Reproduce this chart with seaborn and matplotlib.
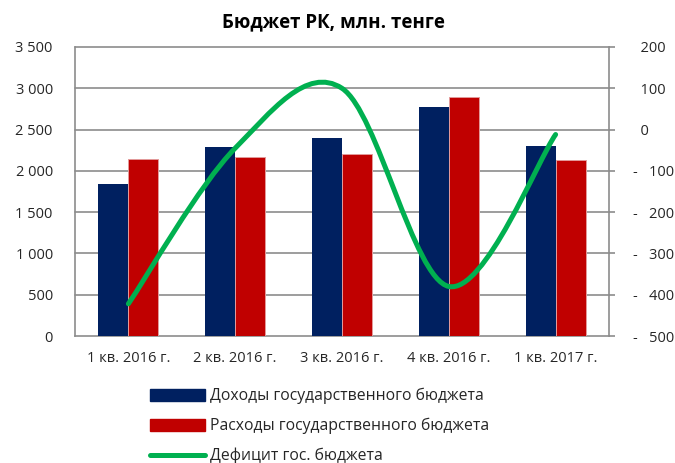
import numpy as np
import pandas as pd
import matplotlib
matplotlib.use("Agg")
import matplotlib.pyplot as plt
from matplotlib.path import Path
from matplotlib.patches import PathPatch, Patch
from matplotlib.lines import Line2D
import seaborn as sns

# Quarterly budget figures, mln tenge
quarters = ["1 кв. 2016 г.", "2 кв. 2016 г.", "3 кв. 2016 г.", "4 кв. 2016 г.", "1 кв. 2017 г."]
revenues = [1837, 2285, 2400, 2770, 2300]
expenses = [2140, 2172, 2210, 2890, 2127]
deficit = [-422, -45, 100, -380, -12]

series_names = ["Доходы государственного бюджета",
                "Расходы государственного бюджета",
                "Дефицит гос. бюджета"]

left_ticks = [0, 500, 1000, 1500, 2000, 2500, 3000, 3500]
left_labels = ["0", "500", "1 000", "1 500", "2 000", "2 500", "3 000", "3 500"]
right_ticks = [-500, -400, -300, -200, -100, 0, 100, 200]
right_labels = ["-   500", "-   400", "-   300", "-   200", "-   100", "  0", "  100", "  200"]

navy = "#002060"
red = "#C00000"
green = "#00B050"
grid_grey = "#8C8C8C"

sns.set_theme(style="white")
plt.rcParams["font.family"] = ["Open Sans", "DejaVu Sans"]
plt.rcParams["font.size"] = 10

df = pd.DataFrame({
    "quarter": quarters * 2,
    "series": [series_names[0]] * len(quarters) + [series_names[1]] * len(quarters),
    "value": revenues + expenses,
})

fig = plt.figure(figsize=(6.75, 4.63), dpi=100)
ax = fig.add_axes([75 / 675, 1 - 336 / 463, 534 / 675, 289 / 463])

sns.barplot(data=df, x="quarter", y="value", hue="series", order=quarters,
            palette=[navy, red], width=0.56, saturation=1, ax=ax, legend=False,
            linewidth=0, errorbar=None, zorder=3)

# thin light outline on the expense bars
for bar in ax.patches:
    fc = bar.get_facecolor()
    if fc[0] > 0.5:
        bar.set_edgecolor("#E39A9A")
        bar.set_linewidth(0.7)

ax.set_xlim(-0.5, len(quarters) - 0.5)
ax.set_ylim(0, 3500)
ax.set_yticks(left_ticks)
ax.set_yticklabels(left_labels)
ax.set_xlabel("")
ax.set_ylabel("")
ax.tick_params(axis="y", length=0, pad=16, labelsize=10.5, colors="#262626")
ax.tick_params(axis="x", length=0, pad=11, labelsize=10.5, colors="#262626")
for s in ["top", "right"]:
    ax.spines[s].set_visible(False)
for s in ["left", "bottom"]:
    ax.spines[s].set_color(grid_grey)
    ax.spines[s].set_linewidth(1.2)

# horizontal gridlines at the primary tick positions
for t in left_ticks[1:]:
    ax.axhline(t, color=grid_grey, linewidth=1.2, zorder=1, clip_on=False)

# Secondary axis with the smoothed deficit curve
ax2 = ax.twinx()
ax2.set_ylim(-500, 200)
ax2.set_yticks(right_ticks)
ax2.set_yticklabels(right_labels, ha="left")
ax2.tick_params(axis="y", direction="out", length=4.5, width=1.2, color=grid_grey,
                pad=13, labelsize=10.5, labelcolor="#262626")
for s in ["top", "left", "bottom"]:
    ax2.spines[s].set_visible(False)
ax2.spines["right"].set_color(grid_grey)
ax2.spines["right"].set_linewidth(1.2)

xs = np.arange(len(deficit), dtype=float)
ys = np.asarray(deficit, dtype=float)
pts = np.column_stack([xs, ys])
ext = np.vstack([pts[:1], pts, pts[-1:]])
verts = [tuple(pts[0])]
codes = [Path.MOVETO]
for i in range(len(pts) - 1):
    p0, p1, p2, p3 = ext[i], ext[i + 1], ext[i + 2], ext[i + 3]
    c1 = p1 + (p2 - p0) / 6.0
    c2 = p2 - (p3 - p1) / 6.0
    verts += [tuple(c1), tuple(c2), tuple(p2)]
    codes += [Path.CURVE4] * 3
curve = PathPatch(Path(verts, codes), facecolor="none", edgecolor=green,
                  linewidth=3.6, capstyle="round", joinstyle="round", zorder=5)
ax2.add_patch(curve)

fig.text(333 / 675, 1 - 22 / 463, "Бюджет РК, млн. тенге", ha="center", va="center",
         fontsize=13.5, fontweight="bold", color="black")

handles = [Patch(facecolor=navy, edgecolor=navy),
           Patch(facecolor=red, edgecolor=red),
           Line2D([0], [0], color=green, linewidth=3.6, solid_capstyle="round")]
fig.legend(handles, series_names, loc="upper left",
           bbox_to_anchor=(150 / 675, 1 - 388 / 463), frameon=False,
           fontsize=11.3, handlelength=3.5, handleheight=0.8, handletextpad=0.3,
           labelspacing=0.86, borderpad=0, borderaxespad=0)

fig.savefig("out.png", dpi=100)
